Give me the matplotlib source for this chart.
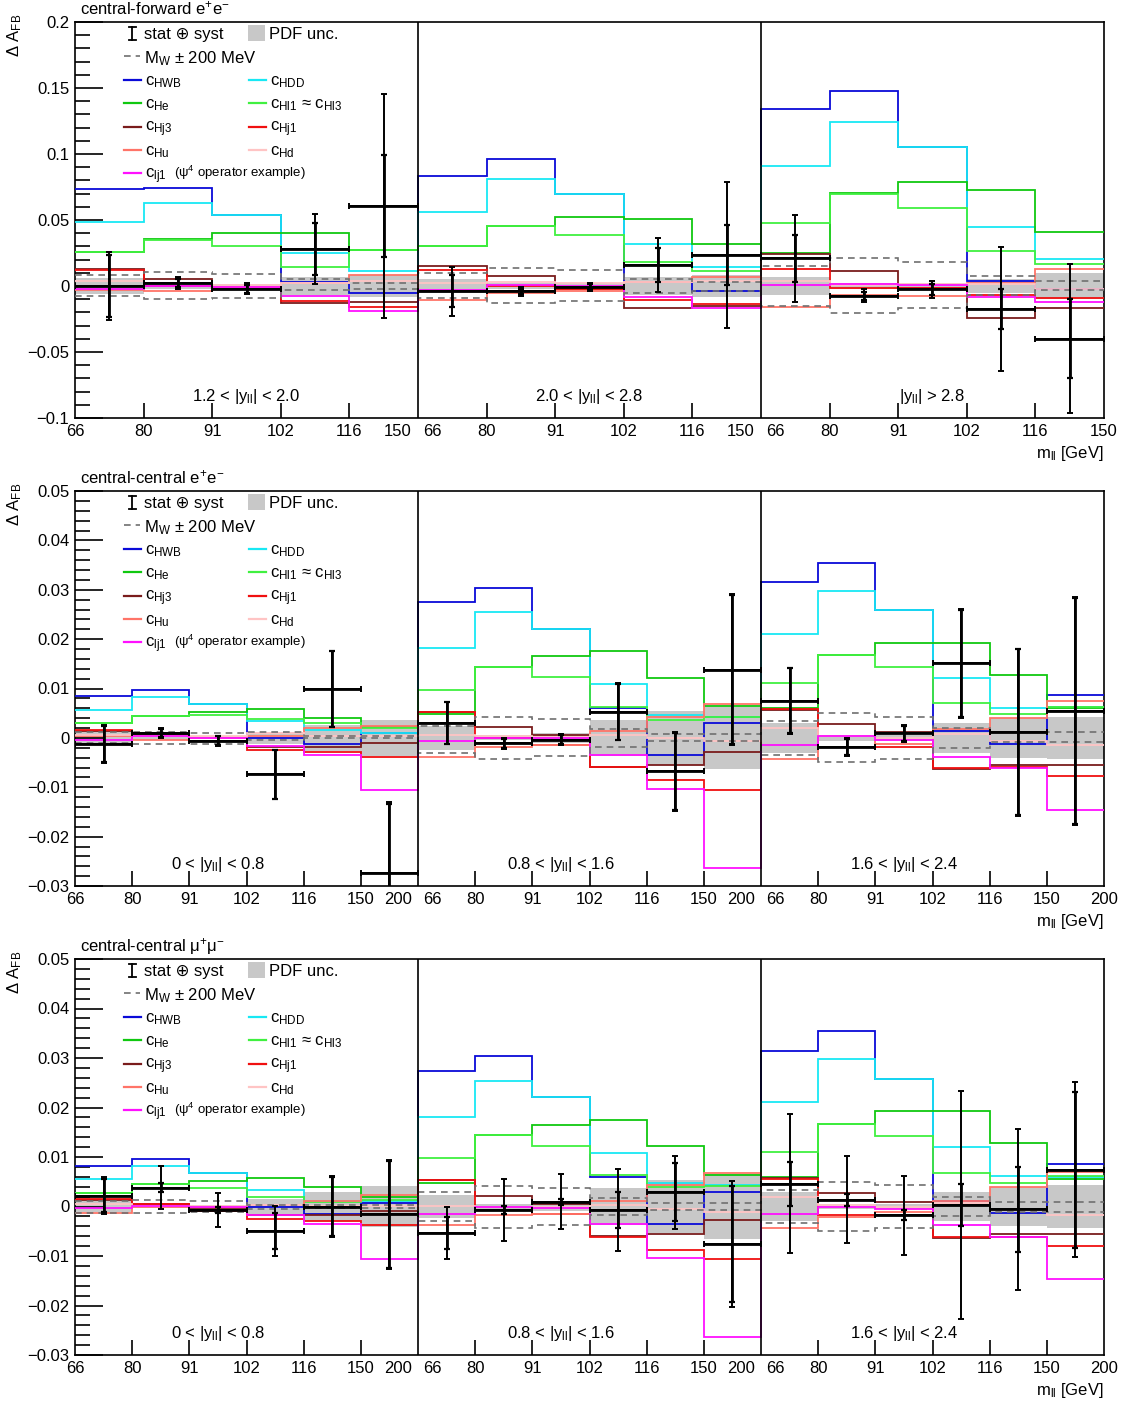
import numpy as np
import matplotlib
matplotlib.use('Agg')
import matplotlib.pyplot as plt
from matplotlib.lines import Line2D
from matplotlib.patches import Rectangle
from matplotlib.ticker import MultipleLocator, FuncFormatter
from matplotlib.transforms import offset_copy, blended_transform_factory

plt.rcParams['font.family'] = ['Liberation Sans', 'DejaVu Sans']
plt.rcParams['mathtext.fontset'] = 'custom'
plt.rcParams['mathtext.rm'] = 'Liberation Sans'
plt.rcParams['mathtext.it'] = 'Liberation Sans:italic'
plt.rcParams['mathtext.sf'] = 'Liberation Sans'

# ==========================================
# Bins and labels
# ==========================================
MASS_FWD = ['66', '80', '91', '102', '116', '150']
MASS_CEN = ['66', '80', '91', '102', '116', '150', '200']
RAP_FWD = ['1.2 < |y$_{\\rm ll}$| < 2.0', '2.0 < |y$_{\\rm ll}$| < 2.8', '|y$_{\\rm ll}$| > 2.8']
RAP_CEN = ['0 < |y$_{\\rm ll}$| < 0.8', '0.8 < |y$_{\\rm ll}$| < 1.6', '1.6 < |y$_{\\rm ll}$| < 2.4']
TITLES = ['central-forward e$^{+}$e$^{-}$', 'central-central e$^{+}$e$^{-}$',
          'central-central \u03bc$^{+}$\u03bc$^{-}$']

# ==========================================
# central-forward e+e- (3 x 5 bins)
# ==========================================
cf_hwb = [0.0735, 0.074, 0.054, 0.003, -0.005, 0.083, 0.096, 0.070, 0.003, -0.004, 0.134, 0.148, 0.1056, 0.004, -0.002]
cf_hdd = [0.0487, 0.0626, 0.054, 0.0247, 0.0116, 0.0563, 0.0808, 0.070, 0.0316, 0.0146, 0.0909, 0.1245, 0.1056, 0.0444, 0.0205]
cf_he = [0.026, 0.0356, 0.0404, 0.0404, 0.0273, 0.030, 0.0457, 0.052, 0.051, 0.032, 0.025, 0.0707, 0.079, 0.0727, 0.041]
cf_hl1 = [0.026, 0.035, 0.0303, 0.0146, 0.027, 0.030, 0.0457, 0.039, 0.018, 0.0116, 0.0475, 0.070, 0.0588, 0.0265, 0.0167]
cf_hj3 = [0.013, 0.0053, -0.002, -0.013, -0.012, 0.015, 0.0076, -0.0025, -0.017, -0.015, 0.024, 0.0116, -0.0018, -0.024, -0.017]
cf_hj1 = [0.0121, 0.0, -0.002, -0.011, -0.0157, 0.012, 0.0, -0.002, -0.0106, -0.0134, 0.0126, -0.0013, -0.0018, -0.0068, -0.0093]
cf_hu = [-0.003, -0.004, -0.001, 0.0025, 0.0083, -0.0106, -0.0056, -0.004, 0.003, 0.007, -0.016, -0.0068, -0.0076, 0.0025, 0.0126]
cf_hd = [0.004, 0.002, 0.001, 0.002, 0.004, 0.002, 0.003, 0.002, 0.003, 0.004, 0.004, 0.001, 0.0015, 0.0015, -0.002]
cf_lj1 = [-0.0025, 0.0, -0.001, -0.0076, -0.0187, -0.003, 0.001, 0.0, -0.008, -0.0164, 0.001, 0.0015, 0.001, -0.0086, -0.012]
cf_mw_up = [0.0083, 0.0106, 0.0088, 0.005, 0.002, 0.0096, 0.0139, 0.012, 0.0053, 0.0033, 0.0152, 0.021, 0.0184, 0.0076, 0.0038]
cf_mw_dn = [-0.0076, -0.0096, -0.0093, -0.003, -0.0023, -0.0088, -0.013, -0.011, -0.005, -0.0035, -0.015, -0.0207, -0.0169, -0.0068, -0.003]
cf_pdf = [0.006, 0.002, 0.0015, 0.007, 0.008, 0.0055, 0.002, 0.002, 0.007, 0.008, 0.007, 0.002, 0.002, 0.005, 0.0095]
cf_data = [0.0, 0.002, -0.002, 0.028, 0.0606, -0.004, -0.004, -0.0005, 0.016, 0.0235, 0.021, -0.0073, -0.0025, -0.0174, -0.040]
cf_err = [0.026, 0.0045, 0.004, 0.0265, 0.085, 0.0186, 0.0034, 0.003, 0.0207, 0.0556, 0.033, 0.0047, 0.0066, 0.0467, 0.0565]
cf_stat = [0.0235, 0.003, 0.003, 0.02, 0.039, 0.012, 0.002, 0.002, 0.013, 0.0225, 0.0177, 0.003, 0.004, 0.0154, 0.03]

# ==========================================
# central-central e+e- (3 x 6 bins)
# ==========================================
ce_hwb = [0.0084, 0.0097, 0.0069, 0.0, -0.0013, 0.001, 0.0275, 0.0303, 0.0221, 0.006, -0.0034, 0.003, 0.0315, 0.0355, 0.0259, 0.0013, -0.0012, 0.0086]
ce_hdd = [0.0057, 0.0082, 0.0069, 0.0034, 0.0016, 0.001, 0.0182, 0.0255, 0.0221, 0.0109, 0.0047, 0.0043, 0.0211, 0.0298, 0.0259, 0.0121, 0.0061, 0.0063]
ce_he = [0.003, 0.0045, 0.0052, 0.0058, 0.004, 0.0023, 0.0049, 0.0144, 0.0165, 0.0175, 0.0122, 0.0065, 0.006, 0.0168, 0.0192, 0.0192, 0.0128, 0.006]
ce_hl1 = [0.003, 0.0045, 0.0047, 0.0038, 0.0031, 0.002, 0.0097, 0.0144, 0.0123, 0.0063, 0.0036, 0.0043, 0.0111, 0.0168, 0.0143, 0.007, 0.0049, 0.0062]
ce_hj3 = [0.0014, 0.0006, -0.0006, -0.0018, -0.0018, -0.001, 0.0053, 0.0023, 0.0005, -0.0058, -0.0055, -0.0028, 0.0057, 0.0028, 0.0011, -0.0063, -0.0055, -0.0055]
ce_hj1 = [0.0016, 0.0009, -0.0007, -0.0024, -0.0029, -0.0038, 0.0053, 0.0, -0.0014, -0.0058, -0.0086, -0.0105, 0.0058, -0.0018, -0.0018, -0.006, -0.0058, -0.0077]
ce_hu = [0.0003, -0.0004, 0.0, 0.0003, 0.002, 0.0024, -0.0038, -0.0018, -0.0014, 0.0013, 0.0043, 0.0068, -0.0043, 0.0003, -0.0012, 0.0018, 0.004, 0.0074]
ce_hd = [0.0006, 0.0003, 0.0003, 0.001, 0.0003, 0.0003, 0.0005, 0.0003, 0.0001, 0.0005, -0.0001, -0.0007, 0.002, 0.0003, 0.0, 0.0008, -0.0007, -0.0014]
ce_lj1 = [-0.0004, 0.0003, 0.0, -0.0016, -0.0034, -0.0105, -0.0007, 0.0, 0.0, -0.0034, -0.0103, -0.0263, -0.0014, 0.0003, -0.0004, -0.0038, -0.0061, -0.0146]
ce_mw_up = [0.0011, 0.0011, 0.001, 0.0011, 0.0003, 0.0003, 0.0024, 0.0043, 0.0038, 0.0018, 0.0007, 0.0007, 0.0034, 0.005, 0.0043, 0.002, 0.0011, 0.0011]
ce_mw_dn = [-0.0011, -0.0012, -0.0012, -0.0005, -0.0001, -0.0001, -0.003, -0.0043, -0.0036, -0.0018, -0.0007, -0.0006, -0.0034, -0.0048, -0.0043, -0.002, -0.0009, -0.0009]
ce_pdf = [0.0013, 0.0004, 0.0003, 0.0012, 0.0027, 0.0037, 0.0024, 0.0005, 0.001, 0.0037, 0.0054, 0.0063, 0.003, 0.0006, 0.0006, 0.003, 0.004, 0.0043]
ce_data = [-0.0012, 0.0009, -0.0006, -0.0074, 0.0099, -0.0273, 0.003, -0.0011, -0.0004, 0.0053, -0.0068, 0.0138, 0.0075, -0.0018, 0.0009, 0.0151, 0.0011, 0.0055]
ce_err = [0.0038, 0.001, 0.001, 0.005, 0.0077, 0.0143, 0.0043, 0.0011, 0.0011, 0.0058, 0.008, 0.0153, 0.0067, 0.0018, 0.0018, 0.011, 0.017, 0.0231]
ce_stat = [0.0036, 0.0008, 0.0009, 0.0049, 0.0076, 0.014, 0.0042, 0.0009, 0.0009, 0.0057, 0.0078, 0.0151, 0.0066, 0.0016, 0.0016, 0.0108, 0.0168, 0.0229]

# ==========================================
# central-central mu+mu- (3 x 6 bins)
# ==========================================
cm_hwb = [0.0082, 0.0096, 0.0068, 0.0, -0.0015, 0.0007, 0.0273, 0.0304, 0.0221, 0.0059, -0.0035, 0.0029, 0.0314, 0.0354, 0.0257, 0.0012, -0.0014, 0.0085]
cm_hdd = [0.0055, 0.0081, 0.0068, 0.0034, 0.0012, 0.0012, 0.0181, 0.0254, 0.0221, 0.0109, 0.0047, 0.0043, 0.0211, 0.0297, 0.0257, 0.012, 0.0061, 0.006]
cm_he = [0.0028, 0.0045, 0.0051, 0.0057, 0.0039, 0.0019, 0.0048, 0.0144, 0.0164, 0.0174, 0.0122, 0.0064, 0.006, 0.0167, 0.0192, 0.0192, 0.0128, 0.0056]
cm_hl1 = [0.0028, 0.0045, 0.0037, 0.0019, 0.001, 0.0013, 0.0097, 0.0144, 0.0122, 0.0063, 0.0039, 0.0041, 0.011, 0.0167, 0.0142, 0.0068, 0.0047, 0.0061]
cm_hj3 = [0.0014, 0.0005, -0.0006, -0.0018, -0.0018, -0.001, 0.0053, 0.0022, 0.0005, -0.0059, -0.0055, -0.0028, 0.0057, 0.0027, 0.0009, -0.0063, -0.0055, -0.0055]
cm_hj1 = [0.0016, 0.0005, -0.0009, -0.0026, -0.003, -0.0038, 0.0053, 0.0, -0.0015, -0.0061, -0.0087, -0.0107, 0.0055, -0.0018, -0.0018, -0.0062, -0.0061, -0.0079]
cm_hu = [-0.0013, -0.0001, 0.0, 0.0003, 0.0012, 0.0024, -0.0038, -0.0018, -0.0015, 0.0012, 0.0043, 0.0068, -0.0043, -0.0022, -0.0011, 0.0012, 0.0039, 0.007]
cm_hd = [0.0005, 0.0002, 0.0002, 0.0003, 0.0002, 0.0002, 0.0002, 0.0, 0.0, 0.0004, -0.0005, -0.0012, 0.002, 0.0003, 0.0, 0.0008, -0.0007, -0.0017]
cm_lj1 = [-0.0003, 0.0002, -0.0001, -0.0017, -0.0036, -0.0106, -0.0015, 0.0, -0.0003, -0.0035, -0.0104, -0.0263, -0.0015, 0.0, -0.0005, -0.0038, -0.0062, -0.0147]
cm_mw_up = [0.0012, 0.0013, 0.0011, 0.0004, 0.0003, 0.0003, 0.0029, 0.0041, 0.0037, 0.0018, 0.0007, 0.0007, 0.0034, 0.0049, 0.0043, 0.0019, 0.0009, 0.0009]
cm_mw_dn = [-0.0013, -0.0014, -0.0011, -0.0006, -0.0003, -0.0003, -0.003, -0.0043, -0.0038, -0.0018, -0.0008, -0.0008, -0.0034, -0.0049, -0.0043, -0.002, -0.0011, -0.0011]
cm_pdf = [0.0012, 0.0003, 0.0003, 0.0015, 0.0029, 0.0041, 0.0023, 0.0005, 0.001, 0.0038, 0.0054, 0.0065, 0.003, 0.0006, 0.0006, 0.003, 0.004, 0.0043]
cm_data = [0.0022, 0.0038, -0.0007, -0.0049, 0.0, -0.0016, -0.0053, -0.0007, 0.001, -0.0007, 0.0029, -0.0076, 0.0046, 0.0014, -0.0018, 0.0003, -0.0006, 0.0074]
cm_err = [0.0038, 0.0043, 0.0034, 0.0051, 0.0061, 0.011, 0.0053, 0.0062, 0.0056, 0.0083, 0.0074, 0.0127, 0.014, 0.0088, 0.008, 0.023, 0.0163, 0.0177]
cm_stat = [0.0034, 0.0009, 0.0006, 0.0036, 0.006, 0.0108, 0.0032, 0.0008, 0.0006, 0.0036, 0.0059, 0.0117, 0.0044, 0.0012, 0.001, 0.0043, 0.0085, 0.0157]

# ==========================================
# Styles
# ==========================================
COEF_STYLE = [  # (legend text, colour)
    ('c$_{\\rm HWB}$', '#0a0ad8'),
    ('c$_{\\rm HDD}$', '#18e8f4'),
    ('c$_{\\rm He}$', '#10c810'),
    ('c$_{\\rm Hl1}$ \u2248 c$_{\\rm Hl3}$', '#40f040'),
    ('c$_{\\rm Hj3}$', '#7a1c1c'),
    ('c$_{\\rm Hj1}$', '#f01010'),
    ('c$_{\\rm Hu}$', '#ff7468'),
    ('c$_{\\rm Hd}$', '#ffc4c4'),
    ('c$_{\\rm lj1}$', '#ff10ff'),
]
FIG_W, FIG_H = 1128, 1405
AX_LEFT, AX_RIGHT = 75, 1104
AX_TOPS = [22, 491, 959]
AX_BOTS = [418, 886, 1355]


def yfmt(v, _):
    s = f'{round(v, 6):g}'
    return s.replace('-', '\u2212')


def fig_xy(px, py):
    return px / FIG_W, 1 - py / FIG_H


def draw_legend(fig, top):
    kw = dict(transform=fig.transFigure, fontsize=12, va='baseline', ha='left')
    # stat (+) syst symbol
    x0, y0, y1 = fig_xy(132, top + 5)[0], fig_xy(132, top + 5)[1], fig_xy(132, top + 18)[1]
    fig.add_artist(Line2D([x0, x0], [y0, y1], color='black', lw=1.3, transform=fig.transFigure))
    for yy in (y0, y1):
        fig.add_artist(Line2D([fig_xy(129, 0)[0], fig_xy(135.5, 0)[0]], [yy, yy], color='black', lw=1.3,
                              transform=fig.transFigure))
    fig.text(*fig_xy(144, top + 17), 'stat \u2295 syst', **kw)
    bx, by = fig_xy(248, top + 19)
    fig.add_artist(Rectangle((bx, by), 17 / FIG_W, 16 / FIG_H, color='#c8c8c8', lw=0,
                             transform=fig.transFigure))
    fig.text(*fig_xy(269, top + 17), 'PDF unc.', **kw)
    # M_W line
    xa, ya = fig_xy(124, top + 34)
    xb, _ = fig_xy(140, top + 34)
    fig.add_artist(Line2D([xa, xb], [ya, ya], color='#707070', lw=1.2, ls=(0, (4, 3)),
                          transform=fig.transFigure))
    fig.text(*fig_xy(144, top + 41), 'M$_{\\rm W}$ \u00b1 200 MeV', **kw)
    # coefficient entries
    for i, (lab, col) in enumerate(COEF_STYLE):
        row, colm = divmod(i, 2)
        ly = top + 58 + 23.3 * row
        lx = 124 if colm == 0 else 249
        xa, ya = fig_xy(lx, ly)
        xb, _ = fig_xy(lx + 17, ly)
        fig.add_artist(Line2D([xa, xb], [ya, ya], color=col, lw=1.6, transform=fig.transFigure))
        fig.text(*fig_xy(lx + 21, ly + 5), lab, **kw)
    fig.text(*fig_xy(174, top + 58 + 23.3 * 4 + 4), '(\u03c8$^{4}$ operator example)',
             transform=fig.transFigure, fontsize=9.5, va='baseline', ha='left')


def draw_panel(fig, idx, masses, raps, series, mw_up, mw_dn, pdf, data, err, stat, ylim, major, minor):
    top, bot = AX_TOPS[idx], AX_BOTS[idx]
    l, b = fig_xy(AX_LEFT, bot)
    ax = fig.add_axes([l, b, (AX_RIGHT - AX_LEFT) / FIG_W, (bot - top) / FIG_H])
    nb = len(masses) - 1
    ntot = 3 * nb
    edges = np.arange(ntot + 1)
    centers = edges[:-1] + 0.5

    up = np.array(pdf)
    ax.stairs(up, edges, baseline=-up, fill=True, color='#c8c8c8', lw=0, zorder=1)
    for vals, (lab, col) in zip(series, COEF_STYLE):
        ax.stairs(vals, edges, baseline=None, color=col, lw=1.3, zorder=3)
    for vals in (mw_up, mw_dn):
        ax.stairs(vals, edges, baseline=None, color='#707070', lw=1.2, ls=(0, (4, 3)), zorder=4)
    ax.errorbar(centers, data, xerr=0.5, yerr=err, fmt='none', ecolor='black', elinewidth=1.4,
                capsize=2.2, capthick=1.4, zorder=6)
    ax.errorbar(centers, data, yerr=stat, fmt='none', ecolor='black', elinewidth=2.0,
                capsize=2.2, capthick=1.6, zorder=6)
    ax.hlines(data, edges[:-1], edges[1:], color='black', lw=2.0, zorder=7)

    for r in (1, 2):
        ax.axvline(r * nb, color='black', lw=1.2, zorder=8)

    ax.set_xlim(0, ntot)
    ax.set_ylim(*ylim)
    ax.yaxis.set_major_locator(MultipleLocator(major))
    ax.yaxis.set_minor_locator(MultipleLocator(minor))
    ax.yaxis.set_major_formatter(FuncFormatter(yfmt))
    ax.tick_params(axis='y', which='major', direction='in', length=20, width=1.2, labelsize=12, pad=4)
    ax.tick_params(axis='y', which='minor', direction='in', length=11, width=1.2)
    inner = [r * nb + k for r in range(3) for k in range(1, nb)]
    ax.set_xticks(inner)
    ax.tick_params(axis='x', which='major', direction='in', length=11, width=1.2, labelbottom=False)
    for s in ax.spines.values():
        s.set_linewidth(1.2)

    trans = blended_transform_factory(ax.transData, ax.transAxes)
    for r in range(3):
        for k, lab in enumerate(masses):
            dx = 0
            if k == 0 and r > 0:
                dx = 14
            if k == nb and r < 2:
                dx = -20
            t = offset_copy(trans, fig=fig, x=dx, y=-6, units='dots')
            ax.text(r * nb + k, 0, lab, transform=t, ha='center', va='top', fontsize=12)
        # rapidity label sits over the middle of the first five mass bins
        t = offset_copy(trans, fig=fig, x=0, y=17, units='dots')
        ax.text(r * nb + 2.5, 0, raps[r], transform=t, ha='center', va='baseline', fontsize=12)

    fig.text(*fig_xy(1104, bot + 40), 'm$_{\\rm ll}$ [GeV]', ha='right', va='baseline', fontsize=12)
    fig.text(*fig_xy(80, top - 8), TITLES[idx], ha='left', va='baseline', fontsize=12)
    fig.text(*fig_xy(15, top - 8), '\u0394 A$_{\\rm FB}$', ha='center', va='top', rotation=90, fontsize=12)
    draw_legend(fig, top)
    return ax


fig = plt.figure(figsize=(FIG_W / 100, FIG_H / 100), dpi=100)

draw_panel(fig, 0, MASS_FWD, RAP_FWD,
           [cf_hwb, cf_hdd, cf_he, cf_hl1, cf_hj3, cf_hj1, cf_hu, cf_hd, cf_lj1],
           cf_mw_up, cf_mw_dn, cf_pdf, cf_data, cf_err, cf_stat, (-0.1, 0.2), 0.05, 0.01)
draw_panel(fig, 1, MASS_CEN, RAP_CEN,
           [ce_hwb, ce_hdd, ce_he, ce_hl1, ce_hj3, ce_hj1, ce_hu, ce_hd, ce_lj1],
           ce_mw_up, ce_mw_dn, ce_pdf, ce_data, ce_err, ce_stat, (-0.03, 0.05), 0.01, 0.002)
draw_panel(fig, 2, MASS_CEN, RAP_CEN,
           [cm_hwb, cm_hdd, cm_he, cm_hl1, cm_hj3, cm_hj1, cm_hu, cm_hd, cm_lj1],
           cm_mw_up, cm_mw_dn, cm_pdf, cm_data, cm_err, cm_stat, (-0.03, 0.05), 0.01, 0.002)

fig.savefig('out.png', dpi=100)
